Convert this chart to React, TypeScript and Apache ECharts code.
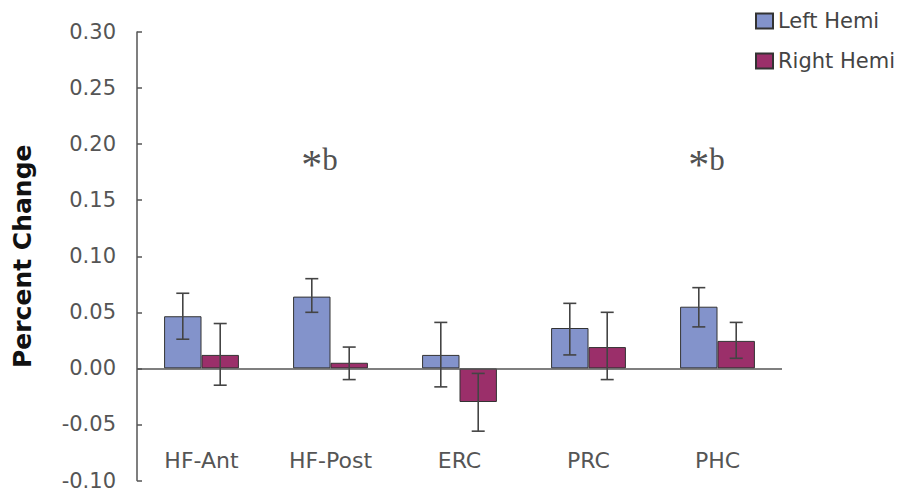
import React, { useEffect, useRef } from "react";
import * as echarts from "echarts";

const categories = ["HF-Ant", "HF-Post", "ERC", "PRC", "PHC"];
const leftValues = [0.0465, 0.064, 0.012, 0.036, 0.055];
const leftLow = [0.026, 0.05, -0.0165, 0.012, 0.037];
const leftHigh = [0.067, 0.08, 0.041, 0.058, 0.072];
const rightValues = [0.012, 0.005, -0.03, 0.019, 0.0245];
const rightLow = [-0.015, -0.01, -0.056, -0.01, 0.009];
const rightHigh = [0.04, 0.019, -0.0045, 0.05, 0.041];
const annotationCats = ["HF-Post", "PHC"];
const annotationValue = 0.186;
const seriesNames = ["Left Hemi", "Right Hemi"];

const BAR_FRAC = 0.29;

export default function App() {
  const ref = useRef<HTMLDivElement>(null);
  useEffect(() => {
    if (!ref.current) return;
    const chart = echarts.init(ref.current, null, { renderer: "svg" });
    const errRender = (sign: number) => (params: any, api: any) => {
      const idx = api.value(0);
      const lo = api.value(1);
      const hi = api.value(2);
      const bw = api.size([1, 0])[0];
      const off = (bw * BAR_FRAC * sign) / 2;
      const top = api.coord([idx, hi]);
      const bot = api.coord([idx, lo]);
      const x = top[0] + off;
      const cap = 6.5;
      const style = { stroke: "#444", lineWidth: 1.6 };
      return {
        type: "group",
        children: [
          { type: "line", shape: { x1: x, y1: top[1], x2: x, y2: bot[1] }, style },
          { type: "line", shape: { x1: x - cap, y1: top[1], x2: x + cap, y2: top[1] }, style },
          { type: "line", shape: { x1: x - cap, y1: bot[1], x2: x + cap, y2: bot[1] }, style },
        ],
      };
    };
    const option: any = {
      animation: false,
      backgroundColor: "#ffffff",
      grid: { left: 137, right: 127, top: 32, bottom: 5, containLabel: false },
      legend: {
        data: seriesNames,
        orient: "vertical",
        left: 750,
        top: 5,
        itemWidth: 17,
        itemHeight: 15,
        itemGap: 18,
        icon: "rect",
        textStyle: {
          fontFamily: "DejaVu Sans",
          fontSize: 21,
          color: "#444",
          lineHeight: 22,
        },
      },
      xAxis: {
        type: "category",
        data: categories,
        axisLine: { show: false },
        axisTick: { show: false },
        splitLine: { show: false },
        axisLabel: {
          inside: true,
          margin: 9,
          fontFamily: "DejaVu Sans",
          fontSize: 22,
          color: "#555",
        },
      },
      yAxis: {
        type: "value",
        min: -0.1,
        max: 0.3,
        interval: 0.05,
        name: "Percent Change",
        nameLocation: "middle",
        nameRotate: 90,
        nameGap: 102,
        nameTextStyle: {
          fontFamily: "DejaVu Sans",
          fontWeight: "bold",
          fontSize: 25,
          color: "#111",
        },
        axisLine: { show: true, lineStyle: { color: "#555", width: 1.5 } },
        axisTick: { show: true, inside: true, length: 5, lineStyle: { color: "#555", width: 1.5 } },
        splitLine: { show: false },
        axisLabel: {
          margin: 21,
          padding: [0, 0, 7, 0],
          fontFamily: "DejaVu Sans",
          fontSize: 21,
          color: "#555",
          formatter: (v: number) => v.toFixed(2),
        },
      },
      series: [
        {
          name: seriesNames[0],
          type: "bar",
          data: leftValues,
          barWidth: BAR_FRAC * 100 + "%",
          barGap: "0%",
          itemStyle: { color: "#8393cb", borderColor: "#333", borderWidth: 1 },
          markLine: {
            silent: true,
            symbol: "none",
            label: { show: false },
            lineStyle: { color: "#555", width: 1.5, type: "solid" },
            data: [{ yAxis: 0 }],
          },
        },
        {
          name: seriesNames[1],
          type: "bar",
          data: rightValues,
          barWidth: BAR_FRAC * 100 + "%",
          barGap: "0%",
          itemStyle: { color: "#9b2f6a", borderColor: "#333", borderWidth: 1 },
        },
        {
          type: "custom",
          renderItem: errRender(-1),
          data: categories.map((c, i) => [i, leftLow[i], leftHigh[i]]),
          encode: { x: 0, y: [1, 2] },
          z: 5,
          silent: true,
        },
        {
          type: "custom",
          renderItem: errRender(1),
          data: categories.map((c, i) => [i, rightLow[i], rightHigh[i]]),
          encode: { x: 0, y: [1, 2] },
          z: 5,
          silent: true,
        },
        {
          type: "scatter",
          symbolSize: 0,
          silent: true,
          data: annotationCats.map((c) => [c, annotationValue]),
          label: {
            show: true,
            position: "inside",
            offset: [-11, 0],
            formatter: "{a|*}{b|b}",
            rich: {
              a: {
                fontFamily: "Liberation Serif",
                fontSize: 42,
                color: "#222",
                verticalAlign: "top",
                padding: [19, 0, 0, 0],
              },
              b: {
                fontFamily: "Liberation Serif",
                fontSize: 31,
                color: "#222",
                verticalAlign: "middle",
                lineHeight: 70,
              },
            },
          },
        },
      ],
    };
    chart.setOption(option);
    return () => chart.dispose();
  }, []);
  return (
    <div
      ref={ref}
      style={{ position: "fixed", left: 0, top: 0, width: 909, height: 491, background: "#fff" }}
    />
  );
}
